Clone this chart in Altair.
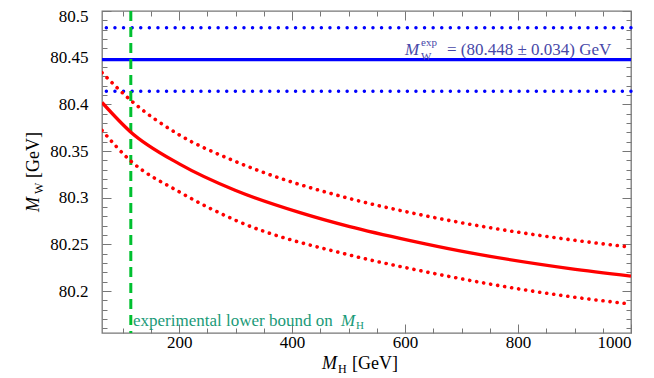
import altair as alt
import pandas as pd

# ---- data ----
mh_central = [63.4, 113, 201, 299, 414, 502, 609, 697, 892, 1000]
mw_central = [80.402, 80.371, 80.336, 80.308, 80.284, 80.269, 80.254, 80.243, 80.224, 80.216]
mh_band = [63.4, 113, 201, 299, 502, 609, 892, 1000]
mw_upper = [80.434, 80.405, 80.367, 80.339, 80.299, 80.284, 80.255, 80.247]
mw_lower = [80.372, 80.340, 80.306, 80.276, 80.2385, 80.224, 80.194, 80.186]
mw_exp = 80.448
mw_exp_err = 0.034
mh_lower_bound = 114.4

x_domain = [63.4, 1000]
y_domain = [80.155, 80.5]
x_ticks = [100, 150, 200, 250, 300, 350, 400, 450, 500, 550, 600, 650, 700, 750, 800, 850, 900, 950, 1000]
x_labels = [200, 400, 600, 800, 1000]
y_ticks = [round(80.16 + 0.01 * i, 2) for i in range(35)]
y_labels = [80.2, 80.25, 80.3, 80.35, 80.4, 80.45, 80.5]

FONT = "Liberation Serif"
GRAY = "#777777"

central_df = pd.DataFrame({"mh": mh_central, "mw": mw_central})
band_df = pd.DataFrame({
    "mh": mh_band * 2,
    "mw": mw_upper + mw_lower,
    "which": ["upper"] * len(mh_band) + ["lower"] * len(mh_band),
})
exp_df = pd.DataFrame({
    "mw": [mw_exp - mw_exp_err, mw_exp, mw_exp + mw_exp_err],
    "kind": ["err", "central", "err"],
})
bound_df = pd.DataFrame({"mh": [mh_lower_bound]})

xlab_list = "[" + ",".join(str(v) for v in x_labels) + "]"
ylab_list = "[" + ",".join(str(v) for v in y_labels) + "]"
x_major = f"indexof({xlab_list}, datum.value) >= 0"
y_major = f"indexof({ylab_list}, datum.value) >= 0"

xscale = alt.Scale(domain=x_domain, nice=False, zero=False)
yscale = alt.Scale(domain=y_domain, nice=False, zero=False)


def x_axis(orient, labels):
    return alt.Axis(
        orient=orient, values=x_ticks, grid=True, ticks=False, domain=False,
        gridColor=GRAY, gridWidth=1, gridOpacity=1,
        gridDash={"condition": {"test": x_major, "value": [9, 2000]}, "value": [5, 2000]},
        labels=labels,
        labelExpr=f"{x_major} ? toString(datum.value) : ''",
        labelFont=FONT, labelFontSize=17, labelColor="black", labelPadding=1,
        labelOverlap=False, title=None,
    )


def y_axis(orient, labels):
    return alt.Axis(
        orient=orient, values=y_ticks, grid=True, ticks=False, domain=False,
        gridColor=GRAY, gridWidth=1, gridOpacity=1,
        gridDash={"condition": {"test": y_major, "value": [9, 2000]}, "value": [5, 2000]},
        labels=labels,
        labelExpr=f"{y_major} ? toString(datum.value) : ''",
        labelOffset={"condition": {"test": "datum.value >= 80.5", "value": 5}, "value": 0},
        labelFont=FONT, labelFontSize=17, labelColor="black", labelPadding=14,
        labelOverlap=False, title=None,
    )


central = alt.Chart(central_df).mark_line(
    color="#ff0000", strokeWidth=3.3, interpolate="monotone", clip=True
).encode(
    x=alt.X("mh:Q", scale=xscale, axis=x_axis("bottom", True)),
    y=alt.Y("mw:Q", scale=yscale, axis=y_axis("left", True)),
)

mirror = alt.Chart(central_df).mark_line(opacity=0).encode(
    x=alt.X("mh:Q", scale=xscale, axis=x_axis("top", False)),
    y=alt.Y("mw:Q", scale=yscale, axis=y_axis("right", False)),
)

band = alt.Chart(band_df).mark_line(
    color="#ff0000", strokeWidth=3.6, strokeDash=[0.1, 7], strokeCap="round",
    interpolate="monotone", clip=True,
).encode(
    x=alt.X("mh:Q", scale=xscale, axis=None),
    y=alt.Y("mw:Q", scale=yscale, axis=None),
    detail="which:N",
)

exp_central = alt.Chart(exp_df).transform_filter("datum.kind == 'central'").mark_rule(
    color="#0000ff", strokeWidth=3.3
).encode(y=alt.Y("mw:Q", scale=yscale, axis=None))

exp_err = alt.Chart(exp_df).transform_filter("datum.kind == 'err'").mark_rule(
    color="#0000ff", strokeWidth=3.4, strokeDash=[0.1, 8.5], strokeCap="round"
).encode(y=alt.Y("mw:Q", scale=yscale, axis=None))

bound = alt.Chart(bound_df).mark_rule(
    color="#00c030", strokeWidth=3, strokeDash=[10, 6]
).encode(x=alt.X("mh:Q", scale=xscale, axis=None))


def label(text, x, y, size=17, color="black", italic=False, angle=0, align="left"):
    kw = dict(font=FONT, fontSize=size, color=color, align=align, baseline="alphabetic")
    if italic:
        kw["fontStyle"] = "italic"
    if angle:
        kw["angle"] = angle
    return alt.Chart(alt.Data(values=[{}])).mark_text(**kw).encode(
        x=alt.value(x), y=alt.value(y), text=alt.value(text)
    )


BLUE_TXT = "#4848a8"
GREEN_TXT = "#1a9a78"

texts = [
    # x-axis title  M_H [GeV]
    label("M", 220, 358, size=18, italic=True),
    label("H", 236, 362, size=12),
    label("[GeV]", 250, 358, size=18),
    # y-axis title  M_W [GeV]
    label("M", -63, 201, size=18, italic=True, angle=270),
    label("W", -59, 183, size=12, angle=270),
    label("[GeV]", -63, 167, size=18, angle=270),
    # experimental value annotation
    label("M", 303, 44, size=17, italic=True, color=BLUE_TXT),
    label("W", 319, 49, size=11, color=BLUE_TXT),
    label("exp", 319, 35, size=11, color=BLUE_TXT),
    label("= (80.448 ± 0.034) GeV", 345, 44, size=17, color=BLUE_TXT),
    # lower bound annotation
    label("experimental lower bound on", 31, 315, size=17, color=GREEN_TXT),
    label("M", 239, 315, size=17, italic=True, color=GREEN_TXT),
    label("H", 254, 318, size=11, color=GREEN_TXT),
]

chart = alt.layer(
    exp_err, exp_central, bound, band, central, mirror, *texts
).resolve_axis(x="independent", y="independent").properties(
    width=529, height=322,
    autosize=alt.AutoSizeParams(type="none"),
    padding={"left": 94, "top": 3, "right": 15, "bottom": 45},
).configure_view(stroke=GRAY, strokeWidth=1.3).configure_axis(
    labelFont=FONT, labelFontSize=17
).configure_text(font=FONT)

chart.save("out.html", embed_options={"renderer": "svg", "actions": False})
